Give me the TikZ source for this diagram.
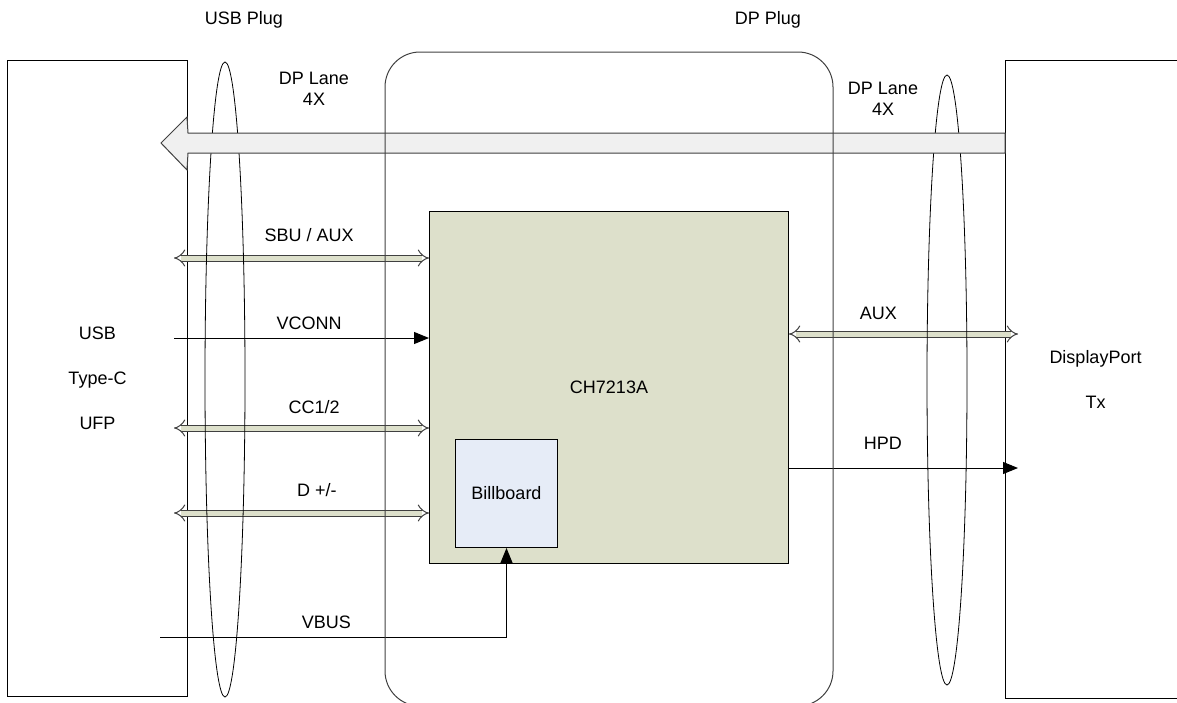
\documentclass[tikz,border=0pt]{standalone}
\usepackage{fontspec}
\setmainfont{Liberation Sans}
\usetikzlibrary{positioning,arrows.meta,calc}
\definecolor{ChipGreen}{HTML}{DDE0CB}
\definecolor{BBBlue}{HTML}{E6ECF7}
\definecolor{LaneGray}{HTML}{F0F0F0}
\definecolor{EdgeGray}{HTML}{404040}

\begin{document}
\begin{tikzpicture}[x=1pt, y=-1pt,
  font=\fontsize{18}{21}\selectfont,
  portbox/.style={draw=black, line width=1pt, anchor=north west, align=center, font=\fontsize{18}{45}\selectfont},
  chipbox/.style={draw=black, line width=1pt, fill=ChipGreen, anchor=north west},
  bbbox/.style={draw=black, line width=1pt, fill=BBBlue, anchor=north west},
  lbl/.style={inner sep=0pt, text height=13pt, text depth=0pt},
  bus/.style={draw=EdgeGray, line width=1pt, double=ChipGreen, double distance=5pt, {Implies}-{Implies}},
  sig/.style={draw=black, line width=1pt, -{Triangle[length=15pt,width=12pt]}},
  plug/.style={draw=black, line width=0.8pt},
  lane/.style={draw=EdgeGray, line width=1pt, fill=LaneGray}
]
\useasboundingbox (0,0) rectangle (1177,702);

% boxes
\node[portbox, minimum width=180pt, minimum height=636pt] (ufp) at (7,60) {USB\\Type-C\\UFP};
\node[portbox, minimum width=180pt, minimum height=638pt] (dptx) at (1005,60) {DisplayPort\\Tx};
\node[chipbox, minimum width=359pt, minimum height=352pt] (chip) at (429,211) {CH7213A};
\node[bbbox, minimum width=102pt, minimum height=108pt] (bb) at (455,439) {Billboard};

% USB side
\coordinate (sbuL) at (174,258);
\coordinate (vconnL) at (174,338);
\coordinate (ccL) at (174,428);
\coordinate (dL) at (174,513);
\coordinate (vbusL) at (160,637);
\draw[bus] (sbuL) -- (sbuL -| chip.west) node[lbl, pos=0.53, above=16pt] {SBU / AUX};
\draw[sig] (vconnL) -- (vconnL -| chip.west) node[lbl, pos=0.53, above=8.5pt] {VCONN};
\draw[bus] (ccL) -- (ccL -| chip.west) node[lbl, pos=0.55, above=14.5pt] {CC1/2};
\draw[bus] (dL) -- (dL -| chip.west) node[lbl, pos=0.56, above=16pt] {D +/-};
\draw[sig] (vbusL) -| node[lbl, pos=0.24, above=8pt] {VBUS} (bb.south);

% DP side
\coordinate (auxR) at (1018,334);
\coordinate (hpdR) at (1018,468);
\draw[bus] (auxR -| chip.east) -- (auxR) node[lbl, pos=0.39, above=14.5pt] {AUX};
\draw[sig] (hpdR -| chip.east) -- (hpdR) node[lbl, pos=0.41, above=18.5pt] {HPD};

% plugs
\draw[plug] (225,379.5) ellipse [x radius=20, y radius=317.5];
\draw[plug] (947,380) ellipse [x radius=20, y radius=305];

% DP lanes
\filldraw[lane] (dptx.west |- 0,133) -- (ufp.east |- 0,133) -- (187,117) -- (161,143)
  -- (187,170) -- (ufp.east |- 0,153) -- (dptx.west |- 0,153) -- cycle;

% adapter outline
\draw[draw=EdgeGray, line width=1pt, rounded corners=35pt] (385,52) rectangle (833,706);

% captions
\node (usbplug) at (244,20) {USB Plug};
\node (dpplug) at (768,20) {DP Plug};
\node[align=center] (laneL) at (314,89) {DP Lane\\4X};
\node[align=center] (laneR) at (883,99) {DP Lane\\4X};
\end{tikzpicture}
\end{document}
